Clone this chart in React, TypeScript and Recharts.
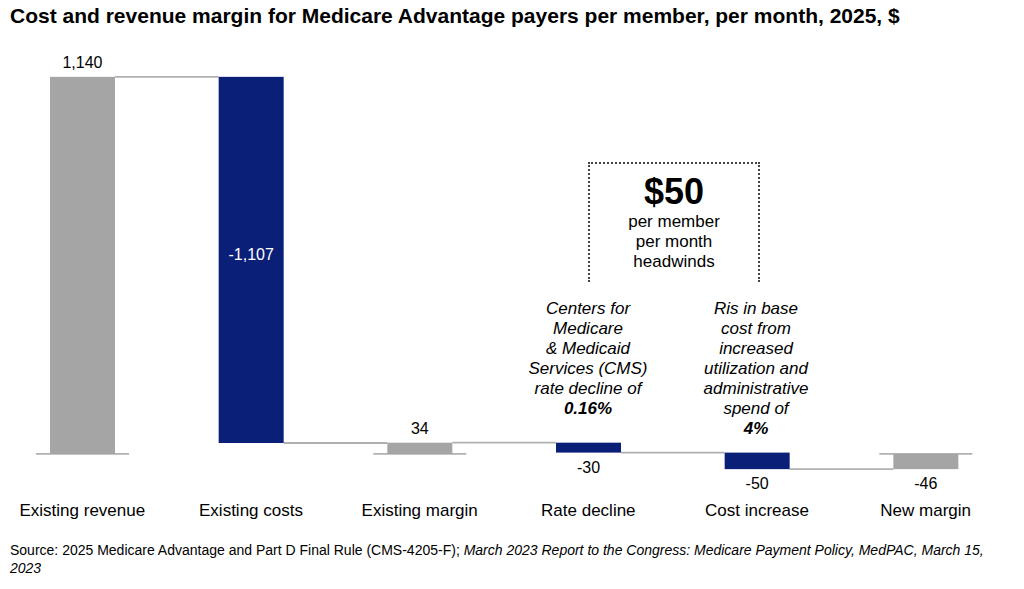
import React from 'react';
import { BarChart, Bar, XAxis, YAxis } from 'recharts';

const categories = [
  'Existing revenue',
  'Existing costs',
  'Existing margin',
  'Rate decline',
  'Cost increase',
  'New margin',
];
const values = [1140, -1107, 34, -30, -50, -46];
const isTotal = [true, false, true, false, false, true];
const labelPos = ['above', 'inside', 'above', 'below', 'below', 'below'];
const yDomain = [-100, 1200];

const GRAY = '#a5a5a5';
const NAVY = '#0a1f78';
const LINE = '#b0b0b0';
const FONT = '"Liberation Sans", Arial, sans-serif';

const CHART_W = 1012;
const CHART_H = 527;
const STEP = CHART_W / categories.length;

// waterfall: each bar spans [low, high]
let running = 0;
const data = categories.map((name, i) => {
  let start = 0;
  let end = values[i];
  if (!isTotal[i]) {
    start = running;
    end = running + values[i];
  }
  running = end;
  return {
    name,
    range: [Math.min(start, end), Math.max(start, end)],
    value: values[i],
    total: isTotal[i],
    pos: labelPos[i],
  };
});

const fmt = (v: number) => v.toLocaleString('en-US');

const WaterfallShape = (props: any) => {
  const { x, y, width, height, index, payload } = props;
  const top = Math.min(y, y + height);
  const bottom = Math.max(y, y + height);
  const v = payload.value;
  const endY = v >= 0 ? top : bottom;
  const zeroY = v >= 0 ? bottom : top;
  const cx = x + width / 2;
  const last = index === data.length - 1;

  let ly = top - 9;
  let fill = '#000';
  if (payload.pos === 'inside') {
    ly = (top + bottom) / 2;
    fill = '#fff';
  } else if (payload.pos === 'below') {
    ly = bottom + 20;
  }

  return (
    <g>
      {!last && (
        <line x1={x + width} x2={x + STEP} y1={endY} y2={endY} stroke={LINE} strokeWidth={1.8} />
      )}
      {payload.total && (
        <line x1={x - 14} x2={x + width + 14} y1={zeroY} y2={zeroY} stroke={LINE} strokeWidth={1.8} />
      )}
      <rect x={x} y={top} width={width} height={bottom - top} fill={payload.total ? GRAY : NAVY} />
      <text x={cx} y={ly} textAnchor="middle" fontSize={16} fontFamily={FONT} fill={fill}>
        {fmt(v)}
      </text>
    </g>
  );
};

const CategoryTick = (props: any) => {
  const { x, y, payload } = props;
  return (
    <text x={x} y={y} dy={21} textAnchor="middle" fontSize={17} fontFamily={FONT} fill="#000">
      {payload.value}
    </text>
  );
};

const noteStyle: React.CSSProperties = {
  position: 'absolute',
  width: 220,
  textAlign: 'center',
  fontStyle: 'italic',
  fontSize: 17,
  lineHeight: '20px',
  color: '#000',
};

export default function App() {
  return (
    <div
      style={{
        position: 'absolute',
        left: 0,
        top: 0,
        width: 1024,
        height: 589,
        overflow: 'hidden',
        background: '#fff',
        fontFamily: FONT,
      }}
    >
      <div
        style={{
          position: 'absolute',
          left: 10,
          top: 4,
          fontSize: 21,
          fontWeight: 'bold',
          whiteSpace: 'nowrap',
          color: '#000',
        }}
      >
        Cost and revenue margin for Medicare Advantage payers per member, per month, 2025, $
      </div>

      <div style={{ position: 'absolute', left: -2, top: 0 }}>
        <BarChart
          width={CHART_W}
          height={CHART_H}
          data={data}
          margin={{ top: 57, right: 0, bottom: 0, left: 0 }}
        >
          <XAxis
            dataKey="name"
            axisLine={false}
            tickLine={false}
            interval={0}
            height={40}
            tick={<CategoryTick />}
          />
          <YAxis hide domain={yDomain} />
          <Bar dataKey="range" barSize={65} shape={<WaterfallShape />} isAnimationActive={false} />
        </BarChart>
      </div>

      {/* headwinds box */}
      <div
        style={{
          position: 'absolute',
          left: 588,
          top: 162,
          width: 168,
          height: 118,
          borderTop: '2px dotted #444',
          borderLeft: '2px dotted #444',
          borderRight: '2px dotted #444',
          textAlign: 'center',
          color: '#000',
        }}
      >
        <div style={{ fontSize: 36, fontWeight: 'bold', lineHeight: '40px', marginTop: 8 }}>$50</div>
        <div style={{ fontSize: 17, lineHeight: '20px', marginTop: 0 }}>
          per member
          <br />
          per month
          <br />
          headwinds
        </div>
      </div>

      <div style={{ ...noteStyle, left: 588 - 110, top: 299 }}>
        Centers for
        <br />
        Medicare
        <br />
        &amp; Medicaid
        <br />
        Services (CMS)
        <br />
        rate decline of
        <br />
        <b>0.16%</b>
      </div>
      <div style={{ ...noteStyle, left: 756 - 110, top: 299 }}>
        Ris in base
        <br />
        cost from
        <br />
        increased
        <br />
        utilization and
        <br />
        administrative
        <br />
        spend of
        <br />
        <b>4%</b>
      </div>

      <div
        style={{
          position: 'absolute',
          left: 10,
          top: 541,
          fontSize: 14,
          lineHeight: '18px',
          color: '#000',
          whiteSpace: 'nowrap',
        }}
      >
        Source: 2025 Medicare Advantage and Part D Final Rule (CMS-4205-F);{' '}
        <i>March 2023 Report to the Congress: Medicare Payment Policy, MedPAC, March 15,</i>
        <br />
        <i>2023</i>
      </div>
    </div>
  );
}
